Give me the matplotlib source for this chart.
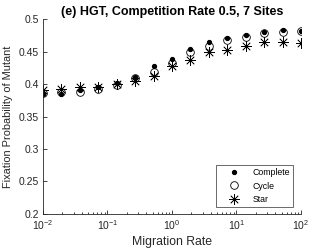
import numpy as np
import matplotlib.pyplot as plt

# migration rates: 15 points, log spaced 1e-2 .. 1e2
migration_rate = [0.01, 0.0193, 0.0373, 0.0720, 0.139, 0.268, 0.518, 1.0,
                  1.93, 3.73, 7.20, 13.9, 26.8, 51.8, 100.0]

complete = [0.384, 0.385, 0.391, 0.395, 0.402, 0.411, 0.427, 0.438,
            0.454, 0.465, 0.471, 0.476, 0.480, 0.483, 0.482]
cycle = [0.386, 0.388, 0.388, 0.392, 0.398, 0.409, 0.419, 0.432,
         0.449, 0.459, 0.468, 0.473, 0.478, 0.480, 0.482]
star = [0.391, 0.393, 0.395, 0.395, 0.400, 0.404, 0.412, 0.427,
        0.437, 0.449, 0.452, 0.459, 0.464, 0.464, 0.463]

y_ticks = [0.2, 0.25, 0.3, 0.35, 0.4, 0.45, 0.5]
y_tick_labels = ["0.2", "0.25", "0.3", "0.35", "0.4", "0.45", "0.5"]

plt.rcParams['font.family'] = ['Liberation Sans', 'DejaVu Sans']
plt.rcParams['mathtext.fontset'] = 'custom'
plt.rcParams['mathtext.rm'] = 'Liberation Sans'
plt.rcParams['mathtext.it'] = 'Liberation Sans'

fig = plt.figure(figsize=(3.32, 2.49), dpi=100)
ax = fig.add_axes([0.1295, 0.1406, 0.777, 0.783])

gray = '0.15'
ax.plot(migration_rate, complete, linestyle='none', marker='o', markersize=2.8,
        color='k', label='Complete')
ax.plot(migration_rate, cycle, linestyle='none', marker='o', markersize=5.5,
        markerfacecolor='none', markeredgecolor='k', markeredgewidth=0.6, label='Cycle')
ax.plot(migration_rate, star, linestyle='none', marker=(8, 2, 0), markersize=7.5,
        color='k', markeredgewidth=0.5, label='Star')

ax.set_xscale('log')
ax.set_xlim(0.01, 100)
ax.set_ylim(0.2, 0.5)
ax.set_yticks(y_ticks)
ax.set_yticklabels(y_tick_labels)
ax.set_xticks([0.01, 0.1, 1, 10, 100])
ax.set_xticklabels([r'$10^{-2}$', r'$10^{-1}$', r'$10^{0}$', r'$10^{1}$', r'$10^{2}$'])

for side in ['top', 'right']:
    ax.spines[side].set_visible(False)
for side in ['left', 'bottom']:
    ax.spines[side].set_color(gray)
    ax.spines[side].set_linewidth(0.6)
ax.tick_params(which='both', direction='in', colors=gray, labelsize=7.5, width=0.6)
ax.tick_params(which='major', length=3, pad=3)
ax.tick_params(which='minor', length=1.8)

ax.set_title('(e) HGT, Competition Rate 0.5, 7 Sites', fontsize=9,
             fontweight='bold', pad=3)
ax.set_xlabel('Migration Rate', fontsize=8.8, color=gray, va='center')
ax.set_ylabel('Fixation Probability of Mutant', fontsize=7.9, color=gray, va='center')
ax.xaxis.set_label_coords(0.5, -0.144)
ax.yaxis.set_label_coords(-0.136, 0.5)

leg = ax.legend(loc='lower right', fontsize=6.3, frameon=True, fancybox=False,
                edgecolor=gray, borderpad=0.35, labelspacing=0.5,
                handlelength=3.6, handletextpad=0.25, borderaxespad=0,
                bbox_to_anchor=(0.969, 0.036))
leg.get_frame().set_linewidth(0.6)

fig.savefig('out.png', dpi=100)
